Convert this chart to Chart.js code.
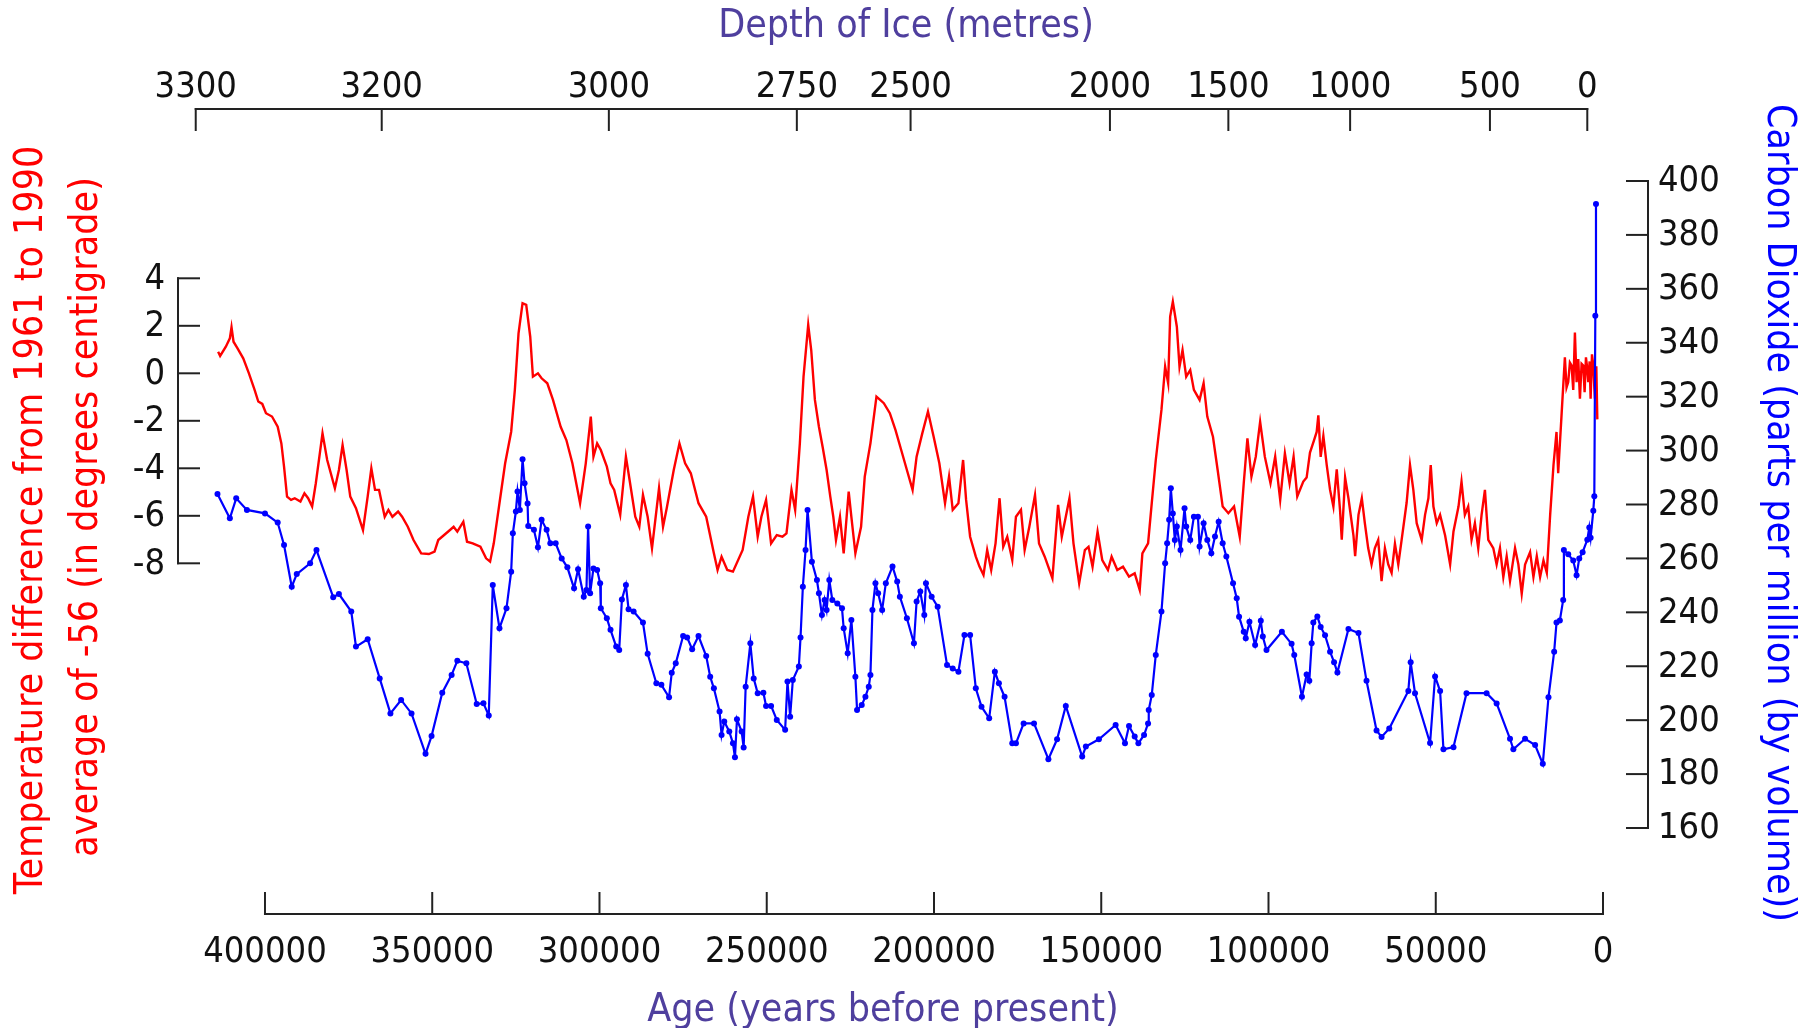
<!DOCTYPE html>
<html><head><meta charset="utf-8">
<script src="https://cdn.jsdelivr.net/npm/chart.js@4.4.1/dist/chart.umd.min.js"></script>
<style>html,body{margin:0;padding:0;background:#fff;overflow:hidden}canvas{display:block}</style>
</head><body>
<canvas id="c" width="1807" height="1028"></canvas>
<script>
// ---- Temperature anomaly (deg C) vs age (years before present)
const tempAges = [414000,413400,411700,410500,410000,409400,408200,406500,404800,403100,402000,400800,399700,397900,396200,395100,394300,393400,392200,391100,389400,388200,387100,385900,384800,382800,381400,379100,377900,376800,375600,374500,372800,370700,369300,368200,367100,365900,364200,363100,361900,360200,359000,357300,355600,353300,351000,349300,348200,345300,343600,342500,340700,339600,337900,335600,333900,332700,331600,329900,328200,326400,325300,324200,323000,321900,320700,319900,318400,317300,315600,313900,311600,309900,308100,305800,304100,302600,301800,300700,299600,297800,296700,295600,293800,292100,291000,289300,288100,287000,285600,284300,282200,281000,279900,277800,276100,274400,272700,270400,268100,265800,264700,263500,261800,260100,257200,255500,
254100,252700,251600,250200,248700,247000,245300,244100,242600,241500,240100,239000,237600,236700,235600,234400,233300,232100,231000,230100,229300,228100,227000,225500,224700,223500,221800,220700,219000,217200,216100,215000,213200,211500,209800,208100,206400,205200,203500,201800,200100,198400,196700,195500,194400,192700,191300,190400,189200,187500,186400,185200,184100,182900,181600,180400,179300,178100,176600,175500,174000,172900,171500,169800,168600,166900,164600,162900,161800,160600,159500,158300,156600,154900,153800,152600,151100,149700,148000,146900,145200,143500,141700,140000,138500,137700,136000,134900,133700,132000,130900,130000,129400,128600,127400,126600,125700,124600,123400,122300,120600,119400,118300,116600,115200,113700,112000,110300,108600,107400,106300,105100,103800,102500,101100,99400,98000,96500,95100,93700,92500,91400,
89600,88600,87600,86400,85600,85100,84400,83600,82600,81600,80600,79600,78600,78100,77100,76100,74600,74100,73100,72100,71200,70200,69200,68200,67200,66200,65200,64200,63200,62200,61200,60200,58700,57700,56700,55700,54200,53200,52200,51500,50700,49700,48700,47200,45700,44700,43200,42300,41300,40300,39300,38300,37300,36300,35300,34300,32800,31800,30800,29800,28800,27800,26300,25300,24300,23300,21800,20800,19800,18800,17800,16800,15800,14800,13900,13400,12400,11400,10900,10400,9900,9400,8900,8400,7900,7400,6900,6400,5900,5500,5100,4700,4400,4000,3700,3300,2900,2600,2400,2000,1700];
const tempValues = [0.91,0.73,1.12,1.47,1.94,1.33,1.05,0.63,0.00,-0.70,-1.19,-1.29,-1.68,-1.82,-2.25,-2.95,-3.93,-5.19,-5.33,-5.26,-5.40,-5.05,-5.26,-5.61,-4.63,-2.53,-3.65,-4.84,-4.07,-3.02,-4.07,-5.19,-5.68,-6.60,-5.19,-4.00,-4.91,-4.91,-6.04,-5.75,-6.04,-5.82,-6.04,-6.46,-7.02,-7.58,-7.61,-7.51,-7.02,-6.67,-6.46,-6.67,-6.25,-7.09,-7.16,-7.30,-7.79,-7.93,-7.16,-5.47,-3.79,-2.46,-0.70,1.68,2.95,2.88,1.54,-0.14,0.00,-0.21,-0.42,-1.12,-2.25,-2.81,-3.79,-5.47,-3.79,-1.82,-3.51,-2.95,-3.23,-3.93,-4.63,-4.91,-5.96,-3.51,-4.49,-6.04,-6.46,-5.12,-6.04,-7.37,-4.84,-6.46,-5.68,-4.07,-2.95,-3.79,-4.21,-5.47,-6.04,-7.58,-8.28,-7.72,-8.28,-8.35,-7.44,-6.04,
-5.19,-6.88,-6.04,-5.33,-7.16,-6.81,-6.88,-6.74,-4.91,-5.75,-2.95,-0.14,2.04,0.98,-1.12,-2.25,-3.09,-4.07,-5.19,-6.04,-7.02,-6.04,-7.58,-4.98,-6.04,-7.58,-6.46,-4.35,-2.95,-0.98,-1.12,-1.26,-1.68,-2.39,-3.23,-4.07,-4.91,-3.51,-2.53,-1.61,-2.67,-3.79,-5.47,-4.35,-5.75,-5.47,-3.65,-5.33,-6.88,-7.72,-8.14,-8.49,-7.44,-8.28,-7.16,-5.26,-7.30,-6.88,-7.86,-6.04,-5.75,-7.44,-6.46,-5.12,-7.16,-7.72,-8.63,-5.54,-6.88,-6.04,-5.26,-7.16,-8.84,-7.44,-7.30,-8.14,-6.67,-7.86,-8.28,-7.72,-8.28,-8.14,-8.56,-8.42,-9.12,-7.58,-7.16,-5.47,-3.65,-1.54,0.28,-0.42,2.39,3.02,1.96,0.28,0.98,-0.14,0.14,-0.70,-1.12,-0.42,-1.82,-2.67,-4.07,-5.61,-5.89,-5.61,-6.88,-4.63,-2.74,-4.35,-3.51,-2.04,-3.51,-4.63,-3.51,-5.33,-3.37,-4.63,-3.51,-5.19,
-4.56,-4.39,-3.34,-2.82,-2.47,-1.77,-3.52,-2.64,-3.86,-4.91,-5.61,-4.04,-5.79,-7.01,-4.39,-5.26,-6.83,-7.70,-5.96,-5.26,-6.31,-7.36,-8.05,-7.36,-7.01,-8.75,-7.36,-8.05,-8.40,-7.18,-8.05,-7.01,-5.44,-3.86,-4.91,-6.31,-7.01,-5.96,-5.26,-3.86,-5.61,-6.31,-5.96,-6.83,-8.05,-6.66,-5.61,-4.56,-5.96,-5.61,-7.01,-6.31,-7.36,-5.96,-4.91,-7.01,-7.36,-8.05,-7.36,-8.58,-7.70,-8.75,-7.36,-8.05,-9.28,-8.05,-7.53,-8.58,-7.70,-8.58,-7.88,-8.40,-5.96,-3.86,-2.47,-4.21,-1.77,0.67,-0.60,-0.37,0.45,0.33,-0.70,1.72,-0.37,0.60,-1.07,0.40,0.33,-0.80,0.67,0.20,-0.37,0.50,-1.07,0.80,0.33,-0.60,-1.07,0.30,-1.94];

// ---- CO2 (ppmv) vs age (years before present)
const co2Ages = [414200,410500,408600,405400,400000,396200,394300,392000,390500,386500,384600,379600,377900,374200,372800,369300,365700,362500,359300,356200,352000,350200,347000,344200,342500,339800,336700,334700,333100,331900,329900,327800,326400,325900,325000,324500,323800,323000,322400,321500,321300,319600,318400,317300,315800,314700,313100,311300,309600,307600,306400,304700,303900,303400,302800,301800,300700,299800,299600,297800,296700,295000,294100,293300,292100,291300,289800,287000,285600,283000,281500,279200,278400,277200,275000,273800,272300,270400,268100,266900,265800,264100,263500,262700,261200,260100,259500,258900,257500,256900,256300,254900,253900,252700,251000,250200,248700,247000,244500,243800,243000,242200,240400,239900,239200,238400,237800,236500,235000,234400,233500,232700,232100,231300,230400,228900,227500,227000,225800,224700,223500,223000,221600,220500,219500,219000,218400,217500,216700,215500,214400,212400,211000,210200,208100,206000,205200,204100,202900,202400,200700,198900,196100,194400,192700,190900,189200,187500,185800,183500,181800,180600,178900,176600,175500,173200,170100,165800,163200,160600,155700,154600,150700,145700,142900,141700,140000,138900,137200,136000,135800,134900,133700,132000,130900,130300,129700,129200,128600,128000,127400,126300,125100,124600,123400,122300,121100,120600,119400,118300,117100,116000,114900,113700,112600,110600,109500,108800,107400,106800,105700,104000,102300,101700,100600,96000,93100,92300,90000,88600,87800,87100,86600,85400,84400,83100,81600,80400,79400,76100,73100,70700,67700,66200,63900,58200,57500,56200,51700,50200,48700,47700,44700,40800,34800,31800,27800,26800,23300,20300,18000,16300,14600,13900,12900,11900,11700,10400,8900,7900,7100,6100,4700,4100,3700,2900,2600,2300,2100];
const co2Values = [283.9,274.9,282.3,278.0,276.7,273.3,265.0,249.5,254.2,258.2,263.1,245.6,246.8,240.3,227.3,230.0,215.5,202.5,207.5,202.5,187.5,194.1,210.2,216.8,222.0,221.1,206.0,206.3,201.7,250.1,234.1,241.5,255.1,269.3,277.4,284.8,278.0,296.8,287.9,280.4,272.0,270.6,264.1,274.3,270.6,265.6,265.6,260.0,256.7,248.9,256.0,245.8,248.3,271.8,247.1,256.3,255.7,250.8,241.5,237.8,233.5,227.3,226.0,244.8,250.1,241.1,240.3,236.2,224.6,213.7,213.1,208.5,217.6,221.1,231.2,230.7,226.3,231.2,223.8,216.1,211.8,203.2,194.5,199.5,195.8,191.4,186.2,200.3,195.8,189.9,212.4,228.5,215.5,210.0,210.2,205.3,205.3,200.1,196.4,214.3,201.3,214.9,219.9,230.7,249.5,263.1,278.0,258.8,252.0,247.1,239.0,244.6,240.9,252.0,244.6,243.3,241.5,234.1,224.8,237.2,216.1,203.8,205.6,208.7,212.4,216.8,240.9,250.8,247.1,240.9,250.8,257.0,251.4,245.8,237.8,228.5,244.0,247.7,239.0,250.8,245.8,242.1,220.5,219.2,218.0,231.6,231.6,211.8,205.0,200.7,218.0,213.7,208.7,191.4,191.4,198.8,198.8,185.5,192.9,205.3,186.5,190.2,192.9,198.2,191.4,197.8,193.9,191.4,194.5,198.8,203.8,209.3,224.2,240.3,258.2,265.6,274.3,286.0,276.7,266.8,271.8,263.1,278.6,271.8,266.8,275.5,275.5,264.4,273.0,266.8,261.9,268.1,273.6,265.6,260.7,250.8,245.2,238.4,232.8,230.4,236.5,227.9,236.9,231.0,226.0,232.8,228.3,224.2,208.7,216.9,214.6,228.5,236.2,238.5,234.6,231.5,225.4,221.5,217.7,233.8,232.3,214.6,196.2,193.8,196.9,210.8,221.5,210.0,191.5,216.2,210.8,189.2,190.0,210.0,210.0,206.2,193.1,189.2,193.1,190.8,183.8,208.5,225.4,236.2,237.0,244.6,263.1,261.5,259.2,253.8,260.0,262.3,266.9,271.5,267.7,277.7,283.1,350.0,391.5];

// ---- Axis tick values / labels
const ageTicks = [400000,350000,300000,250000,200000,150000,100000,50000,0];
const depthLabels = ['3300','3200','3000','2750','2500','2000','1500','1000','500','0'];
const depthAges = [420700,365100,297200,241000,207000,147400,112000,75600,33800,4700];
const tempTicks = [4,2,0,-2,-4,-6,-8];
const co2Ticks = [400,380,360,340,320,300,280,260,240,220,200,180,160];

const FONT = '"DejaVu Sans Condensed", "Liberation Sans", sans-serif';

const axesPlugin = {
  id: 'iceAxes',
  afterDatasetsDraw(chart) {
    const ctx = chart.ctx, a = chart.chartArea;
    const x = chart.scales.x, yT = chart.scales.yT, yC = chart.scales.yC;
    const line = (x1, y1, x2, y2) => { ctx.beginPath(); ctx.moveTo(x1, y1); ctx.lineTo(x2, y2); ctx.stroke(); };
    const TL = 21;
    ctx.save();
    ctx.strokeStyle = '#222';
    ctx.fillStyle = '#111';
    ctx.lineWidth = 2;
    ctx.lineCap = 'square';
    ctx.font = '36px ' + FONT;

    // left (temperature) axis
    const lx = a.left;
    line(lx, yT.getPixelForValue(tempTicks[0]), lx, yT.getPixelForValue(tempTicks[tempTicks.length - 1]));
    ctx.textAlign = 'right'; ctx.textBaseline = 'middle';
    tempTicks.forEach(v => {
      const py = yT.getPixelForValue(v);
      line(lx, py, lx + TL, py);
      ctx.fillText(String(v), lx - 13, py + 1);
    });

    // right (CO2) axis
    const rx = a.right;
    line(rx, yC.getPixelForValue(co2Ticks[0]), rx, yC.getPixelForValue(co2Ticks[co2Ticks.length - 1]));
    ctx.textAlign = 'left';
    co2Ticks.forEach(v => {
      const py = yC.getPixelForValue(v);
      line(rx - TL, py, rx, py);
      ctx.fillText(String(v), rx + 10, py + 1);
    });

    // bottom (age) axis
    const by = 914;
    line(x.getPixelForValue(ageTicks[0]), by, x.getPixelForValue(ageTicks[ageTicks.length - 1]), by);
    ctx.textAlign = 'center';
    ageTicks.forEach(v => {
      const px = x.getPixelForValue(v);
      line(px, by, px, by - TL);
      ctx.fillText(String(v), px, 953);
    });

    // top (depth) axis
    const ty = 109;
    line(x.getPixelForValue(depthAges[0]), ty, x.getPixelForValue(depthAges[depthAges.length - 1]), ty);
    depthAges.forEach((v, i) => {
      const px = x.getPixelForValue(v);
      line(px, ty, px, ty + TL);
      ctx.fillText(depthLabels[i], px, 88);
    });

    // titles
    ctx.font = '39px ' + FONT;
    ctx.fillStyle = '#4f3f9e';
    ctx.fillText('Depth of Ice (metres)', 906, 27);
    ctx.fillText('Age (years before present)', 883, 1011);

    ctx.fillStyle = '#ff0000';
    ctx.save(); ctx.translate(32, 520); ctx.rotate(-Math.PI / 2);
    ctx.fillText('Temperature difference from 1961 to 1990', 0, 0); ctx.restore();
    ctx.save(); ctx.translate(87, 517); ctx.rotate(-Math.PI / 2);
    ctx.fillText('average of -56 (in degrees centigrade)', 0, 0); ctx.restore();

    ctx.fillStyle = '#0000ff';
    ctx.save(); ctx.translate(1778, 513); ctx.rotate(Math.PI / 2);
    ctx.fillText('Carbon Dioxide (parts per million (by volume))', 0, 0); ctx.restore();

    ctx.restore();
  }
};

new Chart(document.getElementById('c'), {
  type: 'line',
  data: {
    datasets: [
      {
        label: 'Temperature',
        data: tempAges.map((t, i) => ({ x: t, y: tempValues[i] })),
        yAxisID: 'yT',
        borderColor: '#ff0000',
        borderWidth: 2.4,
        pointRadius: 0,
        tension: 0,
        order: 2
      },
      {
        label: 'CO2',
        data: co2Ages.map((t, i) => ({ x: t, y: co2Values[i] })),
        yAxisID: 'yC',
        borderColor: '#0000ff',
        borderWidth: 2.2,
        pointRadius: 3,
        pointBorderWidth: 0,
        pointBackgroundColor: '#0000ff',
        tension: 0,
        order: 1
      }
    ]
  },
  options: {
    responsive: false,
    animation: false,
    devicePixelRatio: 1,
    layout: { padding: { left: 178, right: 159, top: 181, bottom: 200 } },
    plugins: { legend: { display: false }, tooltip: { enabled: false }, title: { display: false } },
    scales: {
      x: { type: 'linear', reverse: true, min: -13450, max: 426000, display: false },
      yT: { type: 'linear', position: 'left', min: -19.145, max: 8.097, display: false },
      yC: { type: 'linear', position: 'right', min: 160, max: 400, display: false }
    }
  },
  plugins: [axesPlugin]
});
</script>
</body></html>
